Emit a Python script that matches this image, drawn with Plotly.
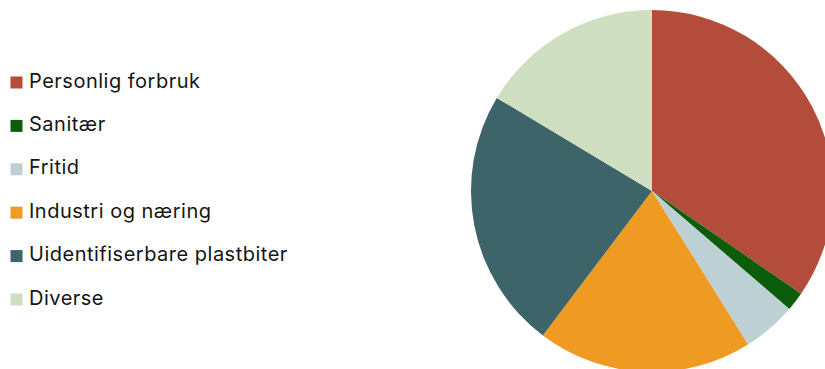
import plotly.graph_objects as go

# Share of litter by source (percent)
labels = [
    "Personlig forbruk",
    "Sanitær",
    "Fritid",
    "Industri og næring",
    "Uidentifiserbare plastbiter",
    "Diverse",
]
values = [34.6, 1.7, 4.8, 19.2, 23.3, 16.4]
colors = ["#B34C3A", "#0B5C0B", "#BDD0D4", "#EF9A23", "#3D6468", "#CFDFC2"]

W, H = 833, 372          # canvas a bit wider/taller than the viewport so the pie runs off the edge
KEY_W = 420              # width (px) of the key area on the left
KEY_X0 = 16.5            # swatch centre, px from the left edge
ROW_TOP, ROW_PITCH = 82.5, 43.4

fig = go.Figure()

fig.add_trace(
    go.Pie(
        labels=labels,
        values=values,
        sort=False,
        direction="clockwise",
        rotation=0,
        marker=dict(colors=colors, line=dict(width=0)),
        textinfo="none",
        hoverinfo="skip",
        showlegend=False,
        domain=dict(x=[471 / W, 1], y=[0, 362 / H]),
    )
)

# Key: one row per category, swatch + label
rows = list(range(len(labels)))
fig.add_trace(
    go.Scatter(
        x=[0] * len(labels),
        y=rows,
        mode="markers",
        marker=dict(symbol="square", size=12, color=colors, line=dict(width=0)),
        hoverinfo="skip",
        showlegend=False,
    )
)
fig.add_trace(
    go.Scatter(
        x=[0] * len(labels),
        y=rows,
        mode="markers+text",
        text=[f"<span style='letter-spacing:0.5px'>{lab}</span>" for lab in labels],
        textposition="middle right",
        textfont=dict(family="Inter", size=20, color="#151515"),
        marker=dict(size=18.4, opacity=0),  # spacer: sets gap between swatch and label
        hoverinfo="skip",
        showlegend=False,
        cliponaxis=False,
    )
)

y_top = -ROW_TOP / ROW_PITCH
y_bot = (H - ROW_TOP) / ROW_PITCH

fig.update_layout(
    width=W,
    height=H,
    margin=dict(l=0, r=0, t=0, b=0),
    paper_bgcolor="white",
    plot_bgcolor="rgba(0,0,0,0)",
    font=dict(family="Inter", color="#151515"),
    showlegend=False,
    xaxis=dict(domain=[0, KEY_W / W], range=[-KEY_X0, KEY_W - KEY_X0], visible=False, fixedrange=True),
    yaxis=dict(domain=[0, 1], range=[y_bot, y_top], visible=False, fixedrange=True),
)

fig.write_html(
    "out.html",
    post_script="document.documentElement.style.overflow='hidden';document.body.style.overflow='hidden';document.body.style.margin='0';",
)
